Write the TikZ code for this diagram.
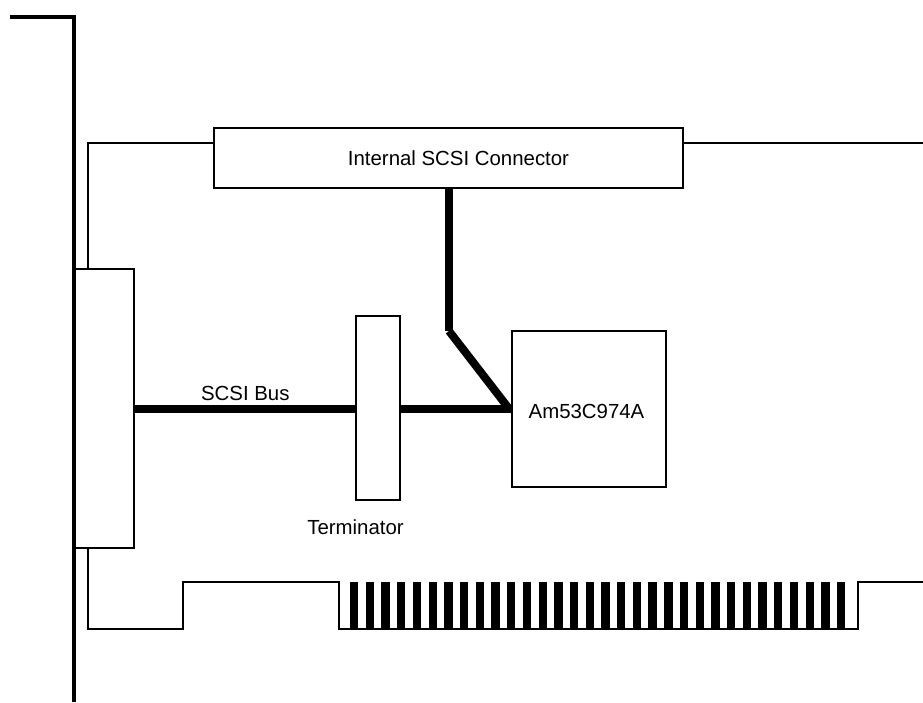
\documentclass[tikz,border=0pt]{standalone}
\usepackage{fontspec}
\setmainfont{Liberation Sans}
\usetikzlibrary{calc}

\begin{document}
\begin{tikzpicture}[
  x=1pt,
  y=-1pt,
  part/.style={
    draw=black,
    line width=1.8pt,
    fill=white,
    inner sep=0pt
  },
  label/.style={
    font=\fontsize{20.4}{24}\selectfont,
    text=black,
    inner sep=0pt,
    anchor=base
  },
  thinline/.style={
    line width=1.8pt,
    draw=black
  },
  bus/.style={
    line width=8pt,
    draw=black
  },
  bracket/.style={
    line width=4pt,
    draw=black
  }
]

\useasboundingbox (0,0) rectangle (923,702);

% board outline
\coordinate (edgeRight) at (923,143);
\coordinate (edgeLeft) at (88,143);
\coordinate (slotRight) at (923,582);
\draw[thinline] (88,269) -- (edgeLeft) -- (214,143);
\draw[thinline] (683,143) -- (edgeRight);
\draw[thinline] (88,548) -- (88,629) -- (183,629) -- (183,582) -- (339,582)
  -- (339,629) -- (858,629) -- (858,582) -- (slotRight);

% contact fingers
\foreach \i in {0,...,31}
  \fill[black] ({350+15.71*\i},582) rectangle ({358.3+15.71*\i},629);

% bus lines
\coordinate (busLevel) at (0,409);
\coordinate (busBend) at (449,331);
\coordinate (busJoin) at (510,410);
\node[part, minimum width=469pt, minimum height=60pt] (conn) at (448.5,158) {};
\node[part, minimum width=61pt, minimum height=279pt] (extconn) at (103.5,408.5) {};
\node[part, minimum width=44pt, minimum height=184pt] (term) at (378,408) {};
\draw[bus] (extconn.east |- busLevel) -- (term.west |- busLevel);
\draw[bus] (term.east |- busLevel) -- (512,409);
\draw[bus] (conn.south -| busBend) -- (busBend);
\draw[bus] (busBend) -- (busJoin);

% chip goes over the bus ends
\node[part, minimum width=154pt, minimum height=156pt] (chip) at (589,409) {};

% mounting bracket
\coordinate (brTop) at (9.5,17);
\coordinate (brCorner) at (73.5,17);
\coordinate (brEnd) at (73.5,702);
\draw[bracket] (brTop) -- (brCorner) -- (brEnd);

% labels
\node[label] (connlabel) at (458.5,165) {Internal SCSI Connector};
\node[label] (buslabel) at (245.3,400) {SCSI Bus};
\node[label] (termlabel) at (355.5,534) {Terminator};
\node[label] (chiplabel) at (586.5,418.3) {Am53C974A};

\end{tikzpicture}
\end{document}
